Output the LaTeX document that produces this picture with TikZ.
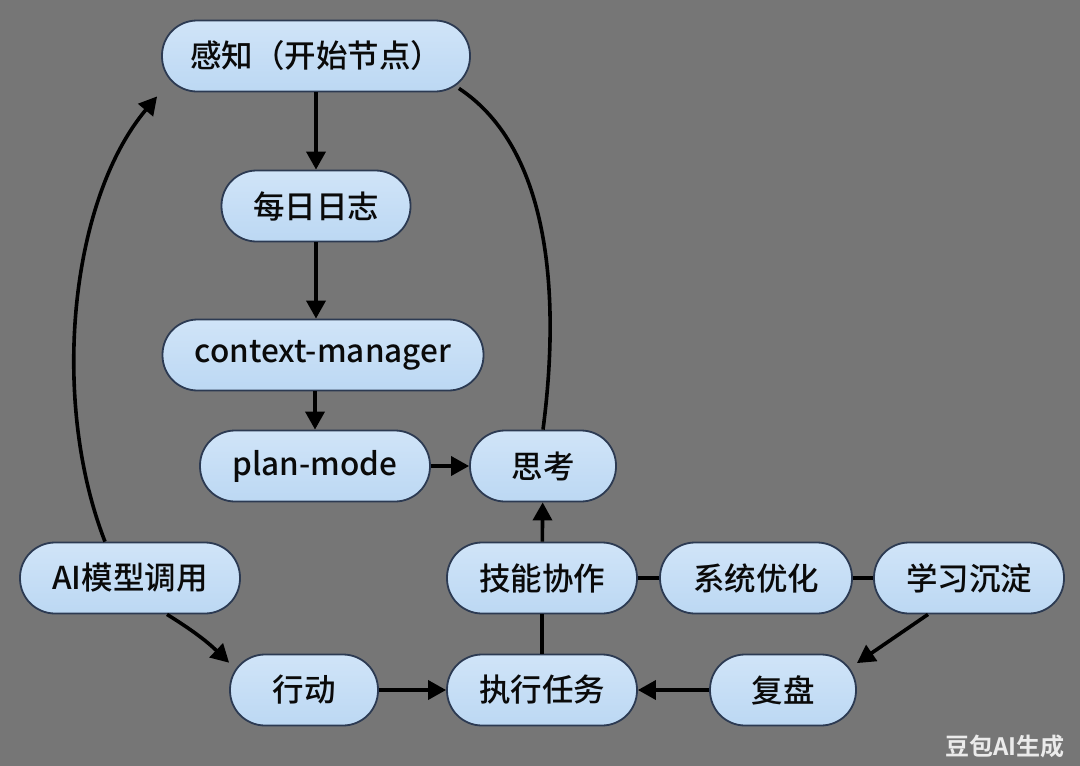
\documentclass[tikz,border=0pt]{standalone}
\usepackage{fontspec}
\setmainfont{Noto Sans CJK SC}[UprightFont=* Medium, BoldFont=* Bold]
\usetikzlibrary{arrows.meta}
\definecolor{bg}{HTML}{767676}
\definecolor{nodeline}{HTML}{2C3A52}
\definecolor{filltop}{HTML}{D0E4F8}
\definecolor{fillbot}{HTML}{BCD8F3}
\definecolor{txt}{HTML}{0A0A0A}
\begin{document}
\begin{tikzpicture}[x=1pt,y=-1pt,
  pill/.style={draw=nodeline, line width=1.8pt, top color=filltop, bottom color=fillbot,
    rounded corners=35pt, minimum height=71pt, inner sep=0pt, text=txt,
    font=\fontsize{31.5}{36}\selectfont},
  conn/.style={line width=3.6pt, draw=black},
  arr/.style={conn, -{Triangle[length=18pt,width=19pt]}},
  wmark/.style={text=white!92!black, font=\bfseries\fontsize{24}{26}\selectfont}
]
\fill[bg] (0,0) rectangle (1080,766);
\useasboundingbox (0,0) rectangle (1080,766);

\node[pill, minimum width=308pt] (gz) at (316,56) {感知（开始节点）};
\node[pill, minimum width=189pt] (rz) at (316,206) {每日日志};
\node[pill, minimum width=321pt] (cm) at (323,355) {context-manager};
\node[pill, minimum width=230pt] (pm) at (315,466) {plan-mode};
\node[pill, minimum width=146pt] (sk) at (543,466) {思考};
\node[pill, minimum width=220pt] (ai) at (130,578) {AI模型调用};
\node[pill, minimum width=190pt] (jn) at (542,578) {技能协作};
\node[pill, minimum width=192pt] (xt) at (756,578) {系统优化};
\node[pill, minimum width=190pt] (xx) at (969,578) {学习沉淀};
\node[pill, minimum width=148pt] (xd) at (304,690) {行动};
\node[pill, minimum width=190pt] (zx) at (542,690) {执行任务};
\node[pill, minimum width=146pt] (fp) at (783,690) {复盘};

\node[wmark] (wm) at (1005,746) {豆包AI生成};

\draw[arr] (gz) -- (rz);
\draw[arr] (rz) -- (rz |- cm.north);
\draw[arr] (pm.north |- cm.south) -- (pm);
\draw[arr] (pm) -- (sk);
\draw[conn] (sk.north) .. controls (560,300) and (552,150) .. ([shift={(-12,-4)}]gz.south east);
\draw[arr] ([xshift=-25pt]ai.north) .. controls (50,400) and (70,200) .. ([shift={(-4,4)}]gz.south west);
\draw[arr] ([xshift=37pt]ai.south) to[bend left=6] (xd.160);
\draw[arr] (xd) -- (zx);
\draw[arr] (fp) -- (zx);
\draw[conn] (zx) -- (jn);
\draw[arr] (jn) -- (sk);
\draw[conn] (jn) -- (xt);
\draw[conn] (xt) -- (xx);
\draw[arr] ([xshift=-41pt]xx.south) -- (fp.20);
\end{tikzpicture}
\end{document}
